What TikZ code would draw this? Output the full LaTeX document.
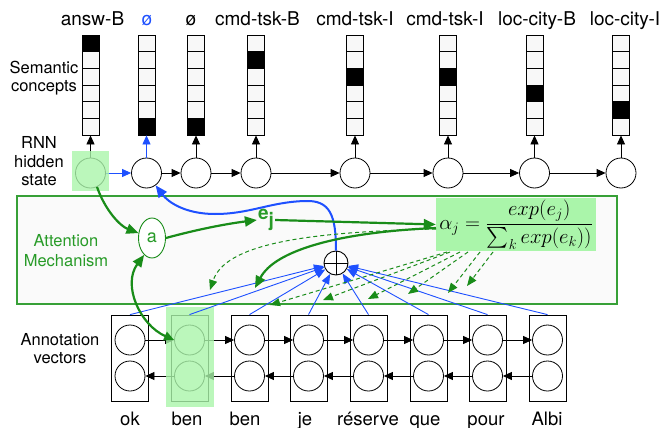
\documentclass[tikz,border=0pt]{standalone}
\usepackage{amsmath}
\usepackage{fontspec}
\setmainfont{TeX Gyre Heros}
\usetikzlibrary{arrows.meta,shapes.geometric}
\definecolor{gdark}{RGB}{25,140,25}
\definecolor{gtext}{RGB}{40,155,40}
\definecolor{gbox}{RGB}{55,160,55}
\definecolor{glight}{RGB}{170,245,170}
\definecolor{bl}{RGB}{30,80,255}
\definecolor{cellfill}{RGB}{248,248,248}
\definecolor{boxfill}{RGB}{250,250,250}
\begin{document}
\begin{tikzpicture}[x=1pt,y=-1pt,
  cell/.style={draw, fill=cellfill, minimum width=17pt, minimum height=16.667pt, inner sep=0pt, line width=0.8pt},
  hid/.style={circle, draw, fill=white, minimum size=30pt, inner sep=0pt, line width=0.8pt},
  vecbox/.style={draw, fill=white, minimum width=37pt, minimum height=86pt, inner sep=0pt, line width=0.8pt},
  toplab/.style={anchor=base, font=\fontsize{19}{21}\selectfont, inner sep=0pt},
  word/.style={anchor=base, font=\fontsize{18.5}{21}\selectfont, inner sep=0pt},
  sidelab/.style={anchor=base, font=\fontsize{16.5}{19}\selectfont, inner sep=0pt},
  arr/.style={-{Triangle[length=9pt,width=8pt]}, line width=0.8pt},
  thinblue/.style={bl, line width=0.9pt, -{Triangle[length=10pt,width=8pt]}},
  garr/.style={gdark, line width=2.2pt, -{Triangle[length=12pt,width=10pt]}},
  gdash/.style={gdark, line width=1pt, dash pattern=on 4pt off 3pt, -{Triangle[length=10pt,width=8pt]}},
  hilite/.style={fill=glight, fill opacity=0.8, draw=none}
]
\useasboundingbox (0,0) rectangle (664,428);

% attention box
\path[draw=gbox, fill=boxfill, line width=1.2pt] (17,196) rectangle (617,304);
\node[sidelab, text=gtext] (att1) at (66,246.5) {Attention};
\node[sidelab, text=gtext] (att2) at (66,266) {Mechanism};

% top labels
\foreach \x/\lab [count=\i] in {92.5/{answ-B},147/{\textcolor{bl}{ø}},191/{ø},257.5/{cmd-tsk-B},355/{cmd-tsk-I},445/{cmd-tsk-I},537/{loc-city-B},625/{loc-city-I}}
  \node[toplab] (L\i) at (\x,26) {\lab};

% semantic concept columns and RNN states
\foreach \x/\f [count=\i] in {90.5/0,146.5/5,196/5,256/1,355/2,448/2,534.5/3,621/4} {
  \foreach \k in {0,...,5}
    \node[cell] (c\i-\k) at (\x,{35+16.667*(\k+0.5)}) {};
  \node[cell, fill=black] (b\i) at (\x,{35+16.667*(\f+0.5)}) {};
  \node[hid] (h\i) at (\x,173) {};
}
\foreach \i in {1,3,4,5,6,7,8}
  \draw[arr] (h\i) -- (c\i-5);
\draw[arr, bl] (h2) -- (c2-5);
\draw[arr, bl] (h1) -- (h2);
\foreach \i/\j in {2/3,3/4,4/5,5/6,6/7,7/8}
  \draw[arr] (h\i) -- (h\j);

\node[sidelab] (s1) at (44,73.5) {Semantic};
\node[sidelab] (s2) at (44,92) {concepts};
\node[sidelab] (r1) at (39,148) {RNN};
\node[sidelab] (r2) at (39,167.5) {hidden};
\node[sidelab] (r3) at (39,185) {state};

% annotation vectors
\foreach \x [count=\i] in {130,189.5,249.5,308.5,368.5,428.5,487.5,547.5} {
  \node[vecbox] (v\i) at (\x,358) {};
  \node[hid] (u\i) at (\x,340) {};
  \node[hid] (d\i) at (\x,376) {};
}
\foreach \i/\j in {1/2,2/3,3/4,4/5,5/6,6/7,7/8} {
  \draw[arr] (u\i) -- (u\j);
  \draw[arr] (d\j) -- (d\i);
}
\node[sidelab] (an1) at (60,345) {Annotation};
\node[sidelab] (an2) at (60,363) {vectors};
\foreach \x/\w [count=\i] in {130/ok,187/ben,245/ben,305/je,368/réserve,425/que,486/pour,547/Albi}
  \node[word] (w\i) at (\x,425) {\w};

% highlights
\path[hilite] (72,151) rectangle (109,191);
\path[hilite] (166,307) rectangle (214,407);

% attention components
\node[ellipse, draw=gdark, line width=0.9pt, fill=white, minimum width=27pt, minimum height=40pt, inner sep=0pt, text=gtext, font=\fontsize{18}{20}\selectfont] (a) at (152,238) {a};
\node[text=gtext, inner sep=1pt, font=\fontsize{19}{21}\selectfont\bfseries] (ej) at (266,220) {e\raisebox{-7pt}{j}};
\node[fill=glight, minimum width=160pt, minimum height=53pt, inner sep=0pt] (f) at (516,224.5)
  {\huge $\displaystyle \alpha_j = \frac{exp(e_j)}{\sum_k exp(e_k))}$};
\node[circle, draw, fill=white, line width=0.9pt, minimum size=24pt, inner sep=0pt,
  path picture={\draw[line width=0.8pt] (path picture bounding box.north) -- (path picture bounding box.south)
     (path picture bounding box.west) -- (path picture bounding box.east);}] (op) at (336,263) {};

% blue lines to the sum
\foreach \i in {1,...,8}
  \draw[thinblue] (v\i.north) -- (op);
\draw[bl, line width=2pt, -{Triangle[length=12pt,width=10pt]}] (op.north) .. controls (336,215) and (330,200) .. (305,201)
  .. controls (270,202) and (250,214) .. (215,214) .. controls (185,214) and (168,202) .. (h2);

% green arrows
\coordinate (fs0) at (436,229);
\coordinate (fs1) at (436,228);
\coordinate (t0) at (210,290);
\coordinate (tb) at (255,288);
\draw[garr] (h1.-65) .. controls (105,210) and (120,226) .. (a.160);
\draw[garr, {Triangle[length=10pt,width=9pt]}-{Triangle[length=12pt,width=10pt]}] (u2.west) .. controls (140,325) and (122,285) .. (a.245);
\draw[garr] (a.east) .. controls (195,230) and (225,224) .. (ej.west);
\draw[garr] (ej.east) -- (f.west);
\draw[garr] (fs1) .. controls (340,232) and (275,250) .. (tb);
\draw[gdash] (fs0) .. controls (300,232) and (225,245) .. (t0);
\foreach \sx/\tx/\ty [count=\n] in {447/270/305,450/323/300,460/368/299,468/408/294,480/448/293,493/467/286} {
  \coordinate (fb\n) at (\sx,252);
  \coordinate (ft\n) at (\tx,\ty);
  \draw[gdash] (fb\n) -- (ft\n);
}
\end{tikzpicture}
\end{document}
